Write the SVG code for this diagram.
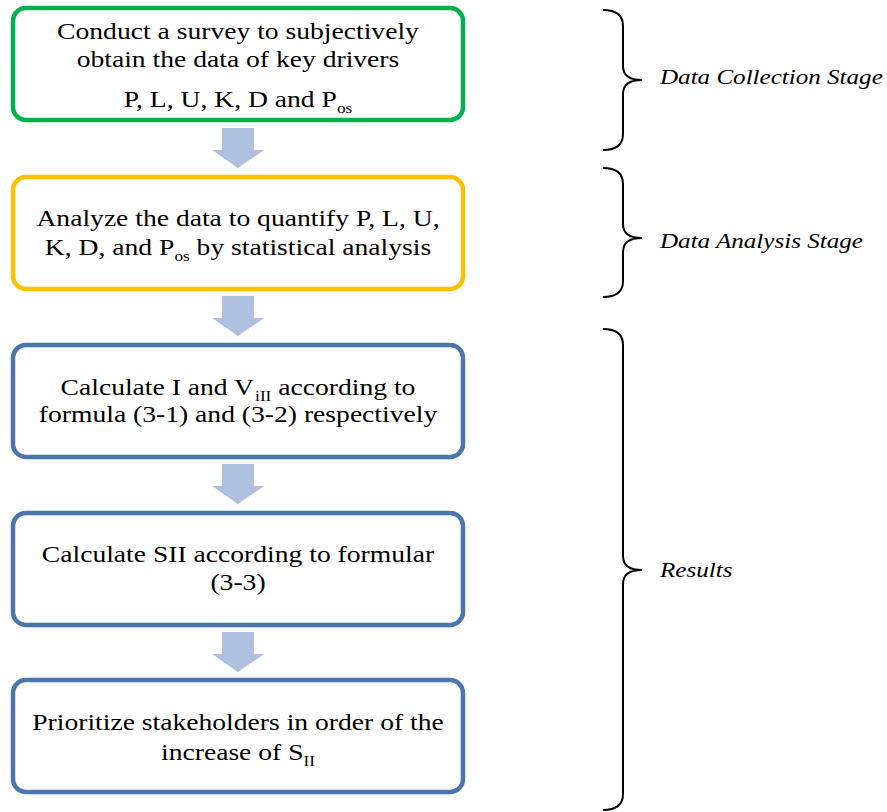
<svg xmlns="http://www.w3.org/2000/svg" width="887" height="812" viewBox="0 0 887 812">
<style>
.box{fill:#fff;stroke-width:4.5}
.t{font-family:"Liberation Serif","Times New Roman",serif;font-size:24px;fill:#000;text-anchor:middle}
.sub{font-size:15px}
.lab{font-family:"Liberation Serif","Times New Roman",serif;font-size:22px;font-style:italic;fill:#000}
.arr{fill:#AFC1DE}
.br{fill:none;stroke:#000;stroke-width:2}
</style>
<rect width="887" height="812" fill="#fff"/>
<g id="connectors">
<path class="arr" d="M222,128 H254 V150 H264 L238,168 L212,150 H222 Z"/>
<path class="arr" d="M222,296 H254 V318 H264 L238,336 L212,318 H222 Z"/>
<path class="arr" d="M222,464 H254 V486 H264 L238,504 L212,486 H222 Z"/>
<path class="arr" d="M222,632 H254 V654 H264 L238,672 L212,654 H222 Z"/>
</g>
<g id="node1">
<rect class="box" x="13" y="8" width="450" height="112" rx="13" stroke="#00B050"/>
<g transform="matrix(1.15 0 0 1 -35.7 0)">
<text class="t" x="238" y="39">Conduct a survey to subjectively</text>
<text class="t" x="238" y="67">obtain the data of key drivers</text>
<text class="t" x="238" y="107">P, L, U, K, D and P<tspan class="sub" dy="6">os</tspan></text>
</g>
</g>
<g id="node2">
<rect class="box" x="13" y="177" width="450" height="112" rx="13" stroke="#FFC000"/>
<g transform="matrix(1.15 0 0 1 -35.7 0)">
<text class="t" x="238" y="226">Analyze the data to quantify P, L, U,</text>
<text class="t" x="238" y="255">K, D, and P<tspan class="sub" dy="6">os</tspan><tspan dy="-6"> by statistical analysis</tspan></text>
</g>
</g>
<g id="node3">
<rect class="box" x="13" y="345" width="450" height="112" rx="13" stroke="#4A76AC"/>
<g transform="matrix(1.15 0 0 1 -35.7 0)">
<text class="t" x="238" y="395">Calculate I and V<tspan class="sub" dx="1" dy="6">iII</tspan><tspan dy="-6"> according to</tspan></text>
<text class="t" x="238" y="422">formula (3-1) and (3-2) respectively</text>
</g>
</g>
<g id="node4">
<rect class="box" x="13" y="513" width="450" height="112" rx="13" stroke="#4A76AC"/>
<g transform="matrix(1.15 0 0 1 -35.7 0)">
<text class="t" x="238" y="562">Calculate SII according to formular</text>
<text class="t" x="238" y="590">(3-3)</text>
</g>
</g>
<g id="node5">
<rect class="box" x="13" y="680" width="450" height="112" rx="13" stroke="#4A76AC"/>
<g transform="matrix(1.15 0 0 1 -35.7 0)">
<text class="t" x="238" y="730">Prioritize stakeholders in order of the</text>
<text class="t" x="238" y="760">increase of S<tspan class="sub" dy="6">II</tspan></text>
</g>
</g>
<g id="braces">
<path class="br" d="M603,10 Q623,10 623,26 V66 Q623,80 642,80 Q623,80 623,94 V134 Q623,150 603,150"/>
<path class="br" d="M603,168 Q623,168 623,184 V224 Q623,238 642,238 Q623,238 623,252 V281 Q623,297 603,297"/>
<path class="br" d="M603,329 Q623,329 623,345 V556 Q623,570 642,570 Q623,570 623,584 V794 Q623,810 603,810"/>
</g>
<g id="labels" transform="matrix(1.14 0 0 1 -92.4 0)">
<text class="lab" x="660" y="84">Data Collection Stage</text>
<text class="lab" x="660" y="248">Data Analysis Stage</text>
<text class="lab" x="660" y="577">Results</text>
</g>
</svg>
